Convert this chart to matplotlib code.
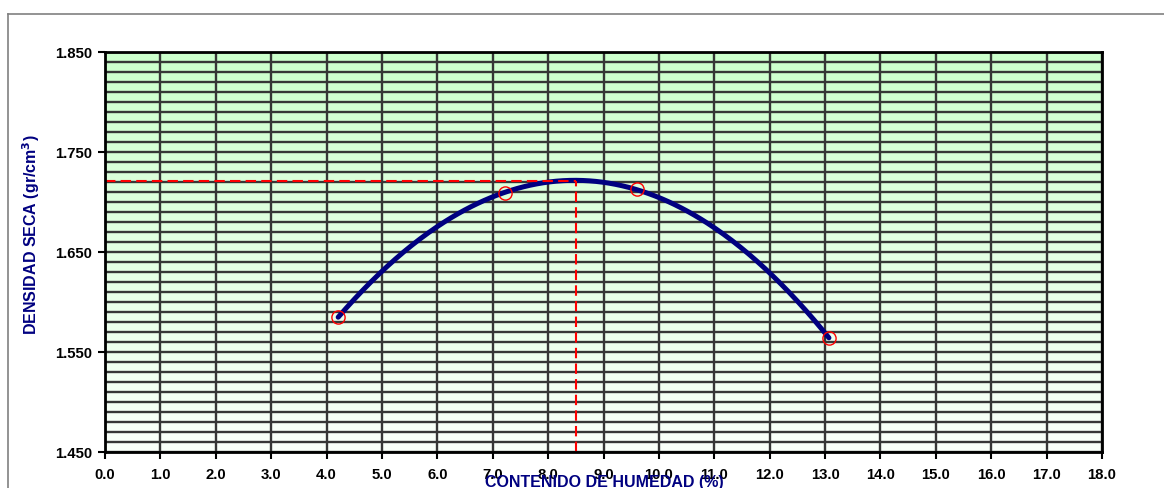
import numpy as np
import matplotlib
matplotlib.use("Agg")
import matplotlib.pyplot as plt
from matplotlib.lines import Line2D

# Data
humedad = [4.21, 7.22, 9.60, 13.07]          # contenido de humedad (%)
densidad = [1.585, 1.709, 1.713, 1.564]      # densidad seca (gr/cm3)
omc = 8.5                                    # optimum moisture content
mdd = 1.721                                  # maximum dry density
x_ticks = [float(v) for v in range(0, 19)]
y_ticks = [1.450, 1.550, 1.650, 1.750, 1.850]

plt.rcParams['font.family'] = ['Liberation Sans', 'DejaVu Sans']

fig = plt.figure(figsize=(11.64, 4.88), dpi=100)
ax = fig.add_axes([105/1164, 1-452/488, (1102-105)/1164, 400/488])

ax.set_xlim(0, 18)
ax.set_ylim(1.45, 1.85)

# gradient background
grad = np.linspace(0, 1, 256).reshape(-1, 1)
top = np.array([204, 255, 204]) / 255
bot = np.array([250, 255, 250]) / 255
img = top[None, None, :] * (1 - grad[:, :, None]) + bot[None, None, :] * grad[:, :, None]
ax.imshow(img, extent=[0, 18, 1.45, 1.85], aspect='auto', origin='upper', zorder=0)

# grid
for xv in x_ticks:
    ax.axvline(xv, color='#363636', lw=1.7, zorder=1)
for yv in np.arange(1.45, 1.8501, 0.01):
    ax.axhline(yv, color='#363636', lw=1.7, zorder=1)

# fitted curve
coef = np.polyfit(humedad, densidad, 2)
xs = np.linspace(min(humedad), max(humedad), 300)
ax.plot(xs, np.polyval(coef, xs), color='#000080', lw=3.6, zorder=3, solid_capstyle='round')

# dashed reference lines
ax.plot([0, omc], [mdd, mdd], color='red', lw=1.5, ls=(0, (5, 2.5)), zorder=4)
ax.plot([omc, omc], [1.45, mdd], color='red', lw=1.5, ls=(0, (5, 2.5)), zorder=4)

# points
ax.plot(humedad, densidad, ls='none', marker='o', ms=9.5, mfc='none', mec='red', mew=1.0, zorder=5)

ax.set_xticks(x_ticks)
ax.set_xticklabels([f"{v:.1f}" for v in x_ticks])
ax.set_yticks(y_ticks)
ax.set_yticklabels([f"{v:.3f}" for v in y_ticks])
ax.tick_params(axis='both', direction='out', length=5, width=1.5, labelsize=10.7)
ax.tick_params(axis='x', pad=6.5)
ax.tick_params(axis='y', pad=4.5)
for lab in ax.get_xticklabels() + ax.get_yticklabels():
    lab.set_fontweight('bold')
for sp in ax.spines.values():
    sp.set_linewidth(2)
    sp.set_zorder(6)

fig.text(31/1164, 1-235/488, "DENSIDAD SECA (gr/cm$^\\mathbf{3}$)", color='#000080', fontsize=11.5,
         fontweight='bold', rotation=90, ha='center', va='center')
fig.text(604/1164, 1-475.5/488, "CONTENIDO DE HUMEDAD (%)", color='#000080', fontsize=11.5,
         fontweight='bold', ha='center', va='top')

# outer frame
fig.add_artist(Line2D([8/1164, 1.0], [1-14/488, 1-14/488], color='#808080', lw=1.2,
                      transform=fig.transFigure))
fig.add_artist(Line2D([8/1164, 8/1164], [1-14/488, 0.0], color='#808080', lw=1.2,
                      transform=fig.transFigure))

fig.savefig("out.png", dpi=100)
